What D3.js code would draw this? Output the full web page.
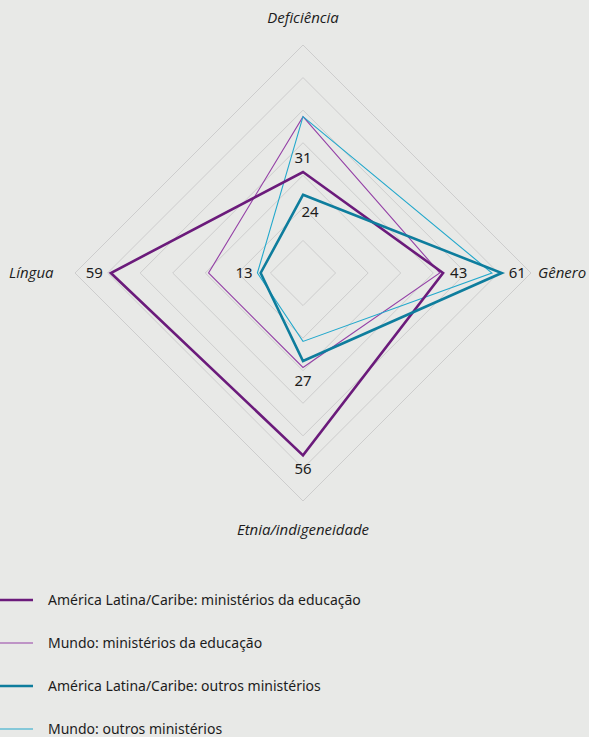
<!DOCTYPE html>
<html>
<head>
<meta charset="utf-8">
<script src="https://cdn.jsdelivr.net/npm/d3@7"></script>
<style>
  html, body { margin: 0; padding: 0; background: #e8e9e7; }
  svg { display: block; }
  text { font-family: "Liberation Sans Narrow", "Noto Sans", sans-serif; fill: #1c1c1c; }
</style>
</head>
<body>
<svg id="chart"></svg>
<script>
// axes of the radar, clockwise from top
const axes = ["Deficiência", "Gênero", "Etnia/indigeneidade", "Língua"];

const series = [
    "América Latina/Caribe: ministérios da educação",
    "Mundo: ministérios da educação",
    "América Latina/Caribe: outros ministérios",
    "Mundo: outros ministérios"
];

// values in the same order as axes
const alcEducacao = [31, 43, 56, 59];
const mundoEducacao = [48, 42, 29, 29];
const alcOutros = [24, 61, 27, 13];
const mundoOutros = [48, 58, 21, 14];

const gridLevels = [10, 20, 30, 40, 50, 60, 70];

const values = [alcEducacao, mundoEducacao, alcOutros, mundoOutros];
const colors = ["#6b1b7b", "#9440a6", "#0e7d9d", "#22a8cc"];
const widths = [2.6, 1.1, 2.6, 1.1];
// which series get their numbers printed
const labelled = [0, 2];

const width = 589, height = 737;
const cx = 303, cy = 273;

const svg = d3.select("#chart")
    .attr("width", width)
    .attr("height", height);

const rscale = d3.scaleLinear().domain([0, 70]).range([0, 228]);
const ascale = d3.scalePoint().domain(axes).range([0, 2 * Math.PI * 3 / 4]);

const chart = svg.append("g")
    .attr("transform", `translate(${cx}, ${cy})`);

const pt = (axis, v) => {
    const a = ascale(axis);
    return [Math.sin(a) * rscale(v), -Math.cos(a) * rscale(v)];
};

// grid
const radial = d3.lineRadial()
    .angle((d, i) => ascale(axes[i]))
    .radius(d => rscale(d))
    .curve(d3.curveLinearClosed);

chart.selectAll(".grid")
    .data(gridLevels)
    .join("path")
    .attr("class", "grid")
    .attr("d", lvl => radial(axes.map(() => lvl)))
    .attr("fill", "none")
    .attr("stroke", "#cdcdcd")
    .attr("stroke-width", 1);

// series (thin ones underneath)
const drawOrder = [1, 3, 0, 2];
chart.selectAll(".serie")
    .data(drawOrder)
    .join("path")
    .attr("class", "serie")
    .attr("d", i => radial(values[i]))
    .attr("fill", "none")
    .attr("stroke", i => colors[i])
    .attr("stroke-width", i => widths[i])
    .attr("stroke-linejoin", "miter");

// value labels
const labelOffset = (si, ai) => {
    // [dx, dy, anchor]
    if (ai === 0) return si === 0 ? [0, -9, "middle"] : [7, 22, "middle"];
    if (ai === 1) return [7, 5, "start"];
    if (ai === 2) return si === 0 ? [0, 19, "middle"] : [0, 25, "middle"];
    return [-8, 5, "end"];
};

labelled.forEach(si => {
    axes.forEach((axis, ai) => {
        const [x, y] = pt(axis, values[si][ai]);
        const [dx, dy, anchor] = labelOffset(si, ai);
        chart.append("text")
            .attr("x", x + dx)
            .attr("y", y + dy)
            .attr("text-anchor", anchor)
            .attr("font-size", "15px")
            .text(values[si][ai]);
    });
});

// axis titles
const titlePos = [
    [0, -250, "middle"],
    [235, 5, "start"],
    [0, 262, "middle"],
    [-cx + 9, 5, "start"]
];
axes.forEach((axis, i) => {
    const [x, y, anchor] = titlePos[i];
    chart.append("text")
        .attr("x", x)
        .attr("y", y)
        .attr("text-anchor", anchor)
        .attr("font-style", "italic")
        .attr("font-size", "15px")
        .style("font-family", "'Open Sans', sans-serif")
        .text(axis);
});

// legend
const legend = svg.append("g")
    .attr("transform", "translate(0, 600)");

const rows = legend.selectAll("g")
    .data(series)
    .join("g")
    .attr("transform", (d, i) => `translate(0, ${i * 43})`);

rows.append("line")
    .attr("x1", 0).attr("x2", 33)
    .attr("y1", 0).attr("y2", 0)
    .attr("stroke", (d, i) => colors[i])
    .attr("stroke-width", (d, i) => widths[i]);

rows.append("text")
    .attr("x", 48)
    .attr("y", 5)
    .attr("font-size", "14px")
    .text(d => d);
</script>
</body>
</html>
